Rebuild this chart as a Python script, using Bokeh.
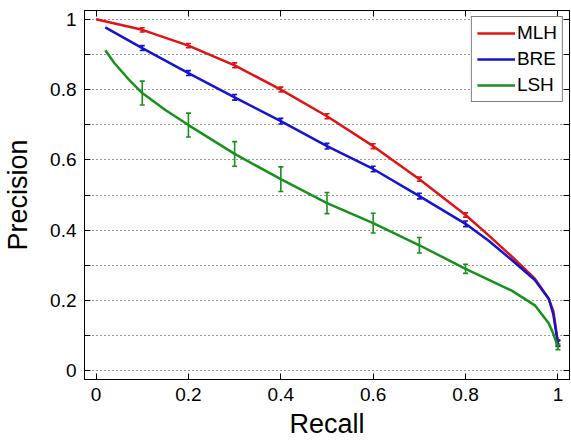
from bokeh.plotting import figure
from bokeh.models import (ColumnDataSource, Whisker, TeeHead, LinearAxis, FixedTicker,
                          Legend, LegendItem, Range1d)
from bokeh.embed import file_html
from bokeh.resources import INLINE

# ---- data ----
recall_mlh = [0.0, 0.1, 0.2, 0.3, 0.4, 0.5, 0.6, 0.7, 0.8, 0.85, 0.9, 0.95, 0.98, 0.99, 1.0]
prec_mlh = [1.0, 0.97, 0.925, 0.869, 0.80, 0.724, 0.639, 0.545, 0.443, 0.385, 0.325, 0.262, 0.205, 0.17, 0.08]

recall_bre = [0.02, 0.1, 0.2, 0.3, 0.4, 0.5, 0.6, 0.7, 0.8, 0.85, 0.9, 0.95, 0.98, 0.99, 1.0]
prec_bre = [0.977, 0.918, 0.847, 0.778, 0.71, 0.639, 0.574, 0.497, 0.418, 0.37, 0.315, 0.258, 0.205, 0.16, 0.077]

recall_lsh = [0.02, 0.04, 0.07, 0.1, 0.15, 0.2, 0.3, 0.4, 0.5, 0.6, 0.7, 0.8, 0.9, 0.95, 0.98, 0.99, 1.0]
prec_lsh = [0.912, 0.875, 0.83, 0.79, 0.742, 0.699, 0.617, 0.545, 0.477, 0.42, 0.357, 0.29, 0.228, 0.186, 0.135, 0.105, 0.068]

err_recall = [0.1, 0.2, 0.3, 0.4, 0.5, 0.6, 0.7, 0.8, 1.0]
err_mlh = [0.006, 0.006, 0.007, 0.007, 0.007, 0.007, 0.006, 0.006, 0.008]
err_bre = [0.007, 0.007, 0.008, 0.008, 0.008, 0.008, 0.008, 0.008, 0.008]
err_lsh = [0.034, 0.034, 0.035, 0.035, 0.03, 0.028, 0.022, 0.013, 0.008]

x_ticks = [0, 0.2, 0.4, 0.6, 0.8, 1.0]
y_ticks = [0, 0.1, 0.2, 0.3, 0.4, 0.5, 0.6, 0.7, 0.8, 0.9, 1.0]
y_labels = ["0", "", "0.2", "", "0.4", "", "0.6", "", "0.8", "", "1"]
x_labels = ["0", "0.2", "0.4", "0.6", "0.8", "1"]

series = [
    ("MLH", recall_mlh, prec_mlh, err_mlh, "#e01414"),
    ("BRE", recall_bre, prec_bre, err_bre, "#1414d2"),
    ("LSH", recall_lsh, prec_lsh, err_lsh, "#18901c"),
]

FONT = "Liberation Sans"

p = figure(frame_width=485, frame_height=369, output_backend="svg", toolbar_location=None,
           x_range=Range1d(-0.025, 1.025), y_range=Range1d(-0.025, 1.025),
           min_border_left=84, min_border_right=2, min_border_top=10, min_border_bottom=62)
p.background_fill_color = "white"
p.border_fill_color = "white"
p.outline_line_color = "black"
p.outline_line_width = 1

items = []
for name, xs, ys, errs, color in series:
    r = p.line(xs, ys, line_color=color, line_width=2.5)
    items.append(LegendItem(label=name, renderers=[r]))
    centers = [ys[xs.index(x)] for x in err_recall]
    src = ColumnDataSource(dict(base=err_recall,
                                upper=[c + e for c, e in zip(centers, errs)],
                                lower=[c - e for c, e in zip(centers, errs)]))
    w = Whisker(source=src, base="base", upper="upper", lower="lower", dimension="height",
                line_color=color, line_width=1.6,
                upper_head=TeeHead(size=5, line_color=color, line_width=1.6),
                lower_head=TeeHead(size=5, line_color=color, line_width=1.6))
    p.add_layout(w)

# axes
def style_axis(ax, ticks, overrides, show_labels):
    ax.ticker = FixedTicker(ticks=ticks)
    ax.major_label_overrides = {t: l for t, l in zip(ticks, overrides)}
    ax.major_tick_in = 6
    ax.major_tick_out = 0
    ax.minor_tick_line_color = None
    ax.axis_line_color = "black"
    ax.major_tick_line_color = "black"
    ax.major_label_text_font = FONT
    ax.major_label_text_font_size = "19px" if show_labels else "0px"
    ax.major_label_text_color = "black"
    ax.axis_label_text_font = FONT
    ax.axis_label_text_font_style = "normal"
    ax.axis_label_text_font_size = "27px"
    ax.axis_label_text_color = "black"

style_axis(p.xaxis[0], x_ticks, x_labels, True)
style_axis(p.yaxis[0], y_ticks, y_labels, True)
p.xaxis[0].axis_label = "Recall"
p.yaxis[0].axis_label = "Precision"
p.xaxis[0].major_label_standoff = 8
p.yaxis[0].major_label_standoff = 8
p.xaxis[0].axis_label_standoff = 5
p.yaxis[0].axis_label_standoff = 14

top = LinearAxis()
style_axis(top, x_ticks, [""] * len(x_ticks), False)
top.major_label_standoff = 0
p.add_layout(top, "above")
right = LinearAxis()
style_axis(right, y_ticks, [""] * len(y_ticks), False)
right.major_label_standoff = 0
p.add_layout(right, "right")

p.xgrid.grid_line_color = None
p.ygrid.ticker = FixedTicker(ticks=y_ticks)
p.ygrid.grid_line_color = "black"
p.ygrid.grid_line_dash = "1 3"
p.ygrid.grid_line_width = 1
p.ygrid.grid_line_alpha = 0.8

legend = Legend(items=items, location="top_right")
legend.label_text_font = FONT
legend.label_text_font_size = "19px"
legend.label_text_color = "black"
legend.glyph_width = 38
legend.glyph_height = 20
legend.label_standoff = 2
legend.spacing = 4
legend.padding = 5
legend.margin = 6
legend.border_line_color = "black"
legend.border_line_width = 1
legend.background_fill_alpha = 1
p.add_layout(legend)

open("out.html", "w").write(file_html(p, INLINE))
